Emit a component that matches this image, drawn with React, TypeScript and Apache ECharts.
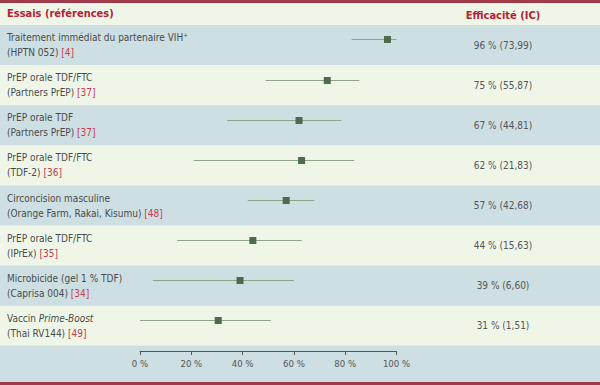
import React, { useEffect, useRef } from "react";
import * as echarts from "echarts";

const trialLine1 = [
  "Traitement immédiat du partenaire VIH⁺",
  "PrEP orale TDF/FTC",
  "PrEP orale TDF",
  "PrEP orale TDF/FTC",
  "Circoncision masculine",
  "PrEP orale TDF/FTC",
  "Microbicide (gel 1 % TDF)",
  "Vaccin ",
];
const trialLine1Italic = ["", "", "", "", "", "", "", "Prime-Boost"];
const trialLine2 = [
  "(HPTN 052)",
  "(Partners PrEP)",
  "(Partners PrEP)",
  "(TDF-2)",
  "(Orange Farm, Rakai, Kisumu)",
  "(IPrEx)",
  "(Caprisa 004)",
  "(Thai RV144)",
];
const refs = ["[4]", "[37]", "[37]", "[36]", "[48]", "[35]", "[34]", "[49]"];

// reported efficacy and CI (text column)
const efficacy = [96, 75, 67, 62, 57, 44, 39, 31];
const ciLowText = [73, 55, 44, 21, 42, 15, 6, 1];
const ciHighText = [99, 87, 81, 83, 68, 63, 60, 51];

// plotted positions
const pointPlotted = [96.5, 73, 62, 63, 57, 44, 39, 30.5];
const lowPlotted = [82.5, 49, 34, 21, 42, 14.5, 5, 0];
const highPlotted = [100, 85.5, 78.5, 83.5, 68, 63, 60, 51];

const xTicks = [0, 20, 40, 60, 80, 100];

const FONT = "'DejaVu Sans Condensed', 'DejaVu Sans', sans-serif";
const BLUE = "#cddfe3";
const LIGHT = "#eff6e8";
const RED = "#9e3a4a";

export default function App() {
  const ref = useRef<HTMLDivElement>(null);
  useEffect(() => {
    if (!ref.current) return;
    const chart = echarts.init(ref.current, null, { renderer: "svg" });
    const rowTop = 25;
    const rowH = 40.1;
    const bands: any[] = [];
    bands.push({ type: "rect", shape: { x: 0, y: 0, width: 600, height: 385 }, style: { fill: LIGHT }, z: -10 });
    for (let i = 0; i < trialLine1.length; i++) {
      if (i % 2 === 0) {
        bands.push({
          type: "rect",
          shape: { x: 0, y: rowTop + i * rowH, width: 600, height: rowH },
          style: { fill: BLUE },
          z: -9,
        });
      }
    }
    bands.push({ type: "rect", shape: { x: 0, y: 345.5, width: 600, height: 37 }, style: { fill: BLUE }, z: -9 });
    bands.push({ type: "rect", shape: { x: 0, y: 0, width: 600, height: 3 }, style: { fill: RED }, z: -8 });
    bands.push({ type: "rect", shape: { x: 0, y: 382, width: 600, height: 3 }, style: { fill: RED }, z: -8 });
    bands.push({
      type: "text",
      left: 7,
      top: 8,
      style: { text: "Essais (références)", fill: "#b52034", font: `bold 11px ${FONT}` },
    });
    bands.push({
      type: "text",
      x: 503,
      y: 15,
      style: { text: "Efficacité (IC)", fill: "#b52034", font: `bold 11px ${FONT}`, textAlign: "center", textVerticalAlign: "middle" },
    });

    const cats = trialLine1.map((_, i) => String(i));
    const rightLabels = efficacy.map((e, i) => `${e} % (${ciLowText[i]},${ciHighText[i]})`);

    chart.setOption({
      animation: false,
      graphic: bands,
      grid: { left: 140, right: 203.5, top: 25, bottom: 39 },
      xAxis: {
        type: "value",
        min: 0,
        max: 100,
        interval: 20,
        offset: 5,
        axisLine: { show: true, lineStyle: { color: "#555", width: 1 } },
        axisTick: { show: true, length: 4, lineStyle: { color: "#555" } },
        splitLine: { show: false },
        axisLabel: { color: "#555", fontSize: 9.5, fontFamily: FONT, margin: 7, formatter: (v: number) => `${v} %` },
      },
      yAxis: [
        {
          type: "category",
          data: cats,
          inverse: true,
          axisLine: { show: false },
          axisTick: { show: false },
          splitLine: { show: false },
          axisLabel: {
            align: "left",
            margin: 133,
            lineHeight: 15,
            formatter: (_v: string, i: number) => {
              const l1 = trialLine1Italic[i]
                ? `{t|${trialLine1[i]}}{it|${trialLine1Italic[i]}}`
                : `{t|${trialLine1[i]}}`;
              return `${l1}\n{t|${trialLine2[i]} }{r|${refs[i]}}`;
            },
            rich: {
              t: { color: "#4a4a4a", fontSize: 10, fontFamily: FONT, lineHeight: 15 },
              it: { color: "#4a4a4a", fontSize: 10, fontFamily: FONT, fontStyle: "italic", lineHeight: 15 },
              r: { color: "#c83a4c", fontSize: 10, fontFamily: FONT, lineHeight: 15 },
            },
          },
        },
        {
          type: "category",
          data: cats,
          inverse: true,
          position: "right",
          axisLine: { show: false },
          axisTick: { show: false },
          splitLine: { show: false },
          axisLabel: {
            align: "center",
            margin: 106.5,
            color: "#555",
            fontSize: 10,
            fontFamily: FONT,
            formatter: (_v: string, i: number) => rightLabels[i],
          },
        },
      ],
      series: [
        {
          type: "custom",
          yAxisIndex: 0,
          data: pointPlotted.map((p, i) => [lowPlotted[i], highPlotted[i], p, i]),
          encode: { x: [0, 1, 2], y: 3 },
          renderItem: (params: any, api: any) => {
            const lo = api.coord([api.value(0), api.value(3)]);
            const hi = api.coord([api.value(1), api.value(3)]);
            const pt = api.coord([api.value(2), api.value(3)]);
            const bandH = api.size([0, 1])[1];
            const dy = -bandH * 0.14;
            const y = Math.round(pt[1] + dy) + 0.5;
            return {
              type: "group",
              children: [
                {
                  type: "line",
                  shape: { x1: lo[0], y1: y, x2: hi[0], y2: y },
                  style: { stroke: "#8ea38a", lineWidth: 1 },
                },
                {
                  type: "rect",
                  shape: { x: pt[0] - 3.5, y: y - 3.5, width: 7, height: 7 },
                  style: { fill: "#4e6b50" },
                },
              ],
            };
          },
        },
      ],
    });
    return () => chart.dispose();
  }, []);
  return <div ref={ref} style={{ width: 600, height: 385, position: "absolute", left: 0, top: 0 }} />;
}
